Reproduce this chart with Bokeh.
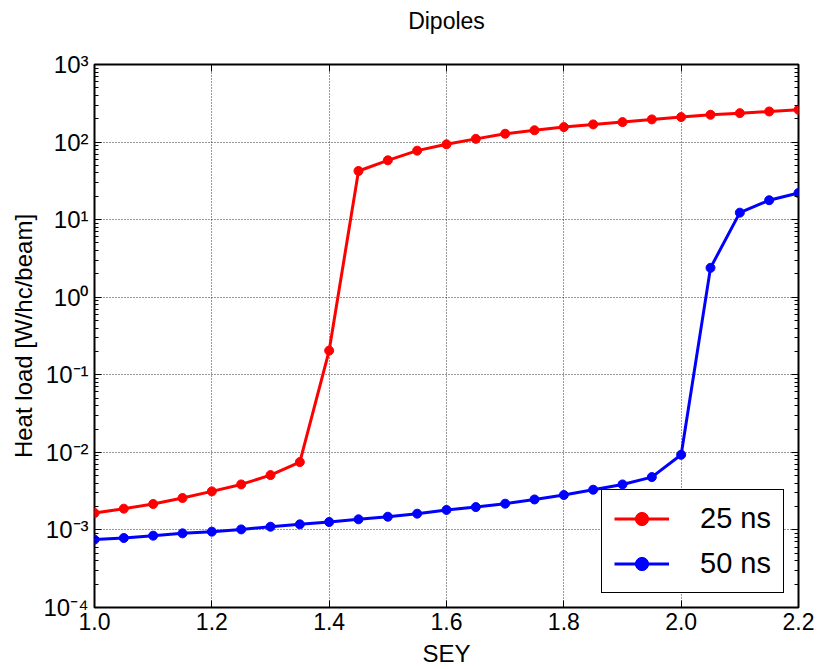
from bokeh.plotting import figure
from bokeh.models import (LinearAxis, LogAxis, FixedTicker, CustomJSTickFormatter,
                          NumeralTickFormatter, Legend, LegendItem, ColumnDataSource)
from bokeh.embed import file_html
from bokeh.resources import INLINE

# Secondary electron yield scan
sey = [1.00, 1.05, 1.10, 1.15, 1.20, 1.25, 1.30, 1.35, 1.40, 1.45, 1.50, 1.55, 1.60,
       1.65, 1.70, 1.75, 1.80, 1.85, 1.90, 1.95, 2.00, 2.05, 2.10, 2.15, 2.20]

# Heat load in the dipoles [W/hc/beam]
heat_25ns = [1.65e-3, 1.88e-3, 2.16e-3, 2.58e-3, 3.14e-3, 3.86e-3, 5.09e-3, 7.49e-3,
             0.205, 42.4, 58.2, 77.5, 93.5, 110.0, 128.0, 142.0, 156.0, 169.0,
             181.0, 196.0, 210.0, 225.0, 236.0, 248.0, 261.0]
heat_50ns = [7.5e-4, 7.87e-4, 8.43e-4, 9.03e-4, 9.5e-4, 1.016e-3, 1.10e-3, 1.18e-3,
             1.265e-3, 1.37e-3, 1.48e-3, 1.62e-3, 1.81e-3, 1.97e-3, 2.18e-3, 2.47e-3,
             2.82e-3, 3.30e-3, 3.86e-3, 4.80e-3, 9.3e-3, 2.39, 12.3, 17.8, 22.1]

series_labels = ["25 ns", "50 ns"]
x_ticks = [1.0, 1.2, 1.4, 1.6, 1.8, 2.0, 2.2]
y_exponents = [-4, -3, -2, -1, 0, 1, 2, 3]
y_ticks = [10.0 ** e for e in y_exponents]
y_minor = [k * 10.0 ** n for n in range(-4, 3) for k in range(2, 10)]

FONT = "Liberation Sans"

p = figure(width=817, height=669, x_range=(1.0, 2.2), y_range=(1e-4, 1e3),
           y_axis_type="log", output_backend="svg", toolbar_location=None,
           min_border_left=94, min_border_right=19, min_border_top=64,
           min_border_bottom=61, background_fill_color="white",
           border_fill_color="white")

p.title.text = "Dipoles"
p.title.align = "center"
p.title.text_font = FONT
p.title.text_font_size = "23px"
p.title.text_font_style = "normal"
p.title.text_color = "black"
p.title.standoff = 10

p.outline_line_color = "black"
p.outline_line_width = 2
p.outline_line_alpha = 1.0

# powers of ten written with superscript exponents
sup_map = {"-": "\u207b", "0": "\u2070", "1": "\u00b9", "2": "\u00b2", "3": "\u00b3",
           "4": "\u2074", "5": "\u2075", "6": "\u2076", "7": "\u2077", "8": "\u2078",
           "9": "\u2079"}
pow_fmt = CustomJSTickFormatter(args=dict(sup=sup_map), code="""
const e = Math.round(Math.log10(tick));
return "10" + String(e).split("").map(c => sup[c]).join("");
""")
blank_fmt = CustomJSTickFormatter(code="return '';")

x_ticker = FixedTicker(ticks=x_ticks)
y_ticker = FixedTicker(ticks=y_ticks, minor_ticks=y_minor)


def style_axis(ax):
    ax.axis_line_color = None
    ax.major_tick_in = 7
    ax.major_tick_out = 0
    ax.minor_tick_in = 4
    ax.minor_tick_out = 0
    ax.major_tick_line_color = "black"
    ax.minor_tick_line_color = "black"
    ax.major_label_text_font = FONT
    ax.major_label_text_color = "black"
    ax.major_label_text_font_size = "23px"
    ax.axis_label_text_font = FONT
    ax.axis_label_text_font_style = "normal"
    ax.axis_label_text_color = "black"
    ax.axis_label_text_font_size = "24px"


def hide_labels(ax):
    ax.formatter = blank_fmt
    ax.major_label_text_font_size = "1px"
    ax.major_label_standoff = 0


# bottom axis
xb = p.xaxis[0]
xb.ticker = x_ticker
xb.formatter = NumeralTickFormatter(format="0.0")
xb.axis_label = "SEY"
style_axis(xb)
xb.minor_tick_line_color = None
xb.major_label_standoff = 5
xb.axis_label_standoff = 7

# left axis
yl = p.yaxis[0]
yl.ticker = y_ticker
yl.formatter = pow_fmt
yl.axis_label = "Heat load [W/hc/beam]"
style_axis(yl)
yl.major_label_text_font_size = "24px"
yl.major_label_standoff = 6
yl.axis_label_standoff = 3

# mirrored tick marks on top and right
xt = LinearAxis(ticker=x_ticker)
style_axis(xt)
hide_labels(xt)
xt.minor_tick_line_color = None
p.add_layout(xt, "above")

# undrawn axis above that keeps the title clear of the frame
title_gap = LinearAxis(ticker=x_ticker, major_tick_in=0, major_tick_out=26,
                       major_tick_line_color=None, minor_tick_line_color=None,
                       axis_line_color=None)
hide_labels(title_gap)
p.add_layout(title_gap, "above")

yr = LogAxis(ticker=y_ticker)
style_axis(yr)
hide_labels(yr)
p.add_layout(yr, "right")

# dotted grid at major ticks
for g in (p.xgrid[0], p.ygrid[0]):
    g.grid_line_color = "black"
    g.grid_line_alpha = 0.8
    g.grid_line_width = 1
    g.grid_line_dash = "1 2"
p.xgrid[0].ticker = x_ticker
p.ygrid[0].ticker = y_ticker

src = ColumnDataSource(data=dict(sey=sey, h25=heat_25ns, h50=heat_50ns))

l25 = p.line("sey", "h25", source=src, line_color="#ff0000", line_width=3)
s25 = p.scatter("sey", "h25", source=src, size=9, fill_color="#ff0000",
                line_color="#ff0000")
l50 = p.line("sey", "h50", source=src, line_color="#0000ff", line_width=3)
s50 = p.scatter("sey", "h50", source=src, size=9, fill_color="#0000ff",
                line_color="#0000ff")

legend = Legend(items=[LegendItem(label=series_labels[0], renderers=[l25, s25]),
                       LegendItem(label=series_labels[1], renderers=[l50, s50])],
                location=(507, 14), margin=0, padding=12, spacing=12,
                glyph_width=55, glyph_height=33, label_height=33,
                label_standoff=31, label_text_font=FONT,
                label_text_font_size="29px", label_text_color="black",
                border_line_color="black", border_line_width=1,
                border_line_alpha=1.0, background_fill_color="white",
                background_fill_alpha=1.0)
p.add_layout(legend, "center")

open("out.html", "w").write(file_html(p, INLINE))
